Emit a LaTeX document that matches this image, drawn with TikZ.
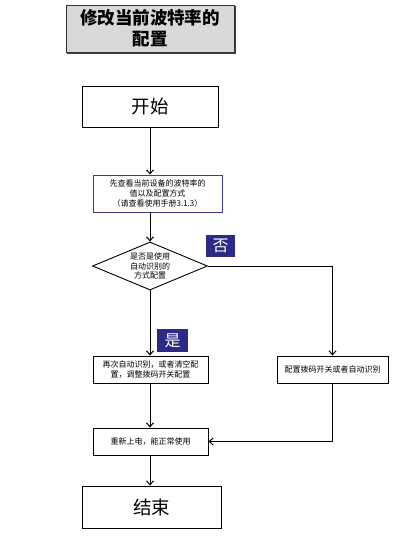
\documentclass[tikz,border=0pt]{standalone}
\usepackage{fontspec}
\setmainfont{Noto Sans CJK SC}
\usepackage{tikz}
\usetikzlibrary{arrows.meta,shapes.geometric,calc}

\definecolor{navy}{RGB}{43,43,134}
\definecolor{boxblue}{RGB}{60,60,150}
\definecolor{titlegray}{RGB}{217,217,217}

\begin{document}
\begin{tikzpicture}[
  x=1pt, y=-1pt, >={Straight Barb[length=4pt,width=7pt]},
  bigbox/.style={draw=black, line width=0.9pt, fill=white, minimum width=#1, minimum height=41pt, inner sep=0pt, font=\fontsize{18.5}{20}\selectfont},
  smallbox/.style={draw=black, line width=0.9pt, fill=white, minimum width=#1, minimum height=27pt, inner sep=0pt, align=center, font=\fontsize{8}{10}\selectfont},
  tag/.style={fill=navy, text=white, minimum width=29pt, minimum height=22pt, inner sep=0pt, font=\fontsize{16}{16}\selectfont},
  flow/.style={->, line width=1pt, draw=black},
]
\useasboundingbox (0,0) rectangle (413,536);

% title
\fill[black!75] (66.5,5.5) rectangle (235.5,53.5);
\node[draw=black!80, line width=0.7pt, fill=titlegray, minimum width=168pt, minimum height=47pt, inner sep=0pt, align=center, font=\fontsize{17.5}{21}\selectfont\bfseries] (title) at (150,28.5) {修改当前波特率的\\配置};

\node[bigbox=136pt] (start) at (150,106.5) {开始};
\node[smallbox=129pt, draw=boxblue, minimum height=37pt] (check) at (157.5,193.5) {先查看当前设备的波特率的\\值以及配置方式\\（请查看使用手册3.1.3）};
\node[draw=black, line width=0.9pt, diamond, aspect=2.4, minimum width=115pt, minimum height=48pt, inner sep=0pt, align=center, font=\fontsize{8}{9.5}\selectfont] (decide) at (150,266) {是否是使用\\自动识别的\\方式配置};
\node[tag] (no) at (220.5,246) {否};
\node[tag, minimum width=31pt, minimum height=23pt] (yes) at (172.5,340.5) {是};
\node[smallbox=115pt] (retry) at (150.5,369.5) {再次自动识别，或者清空配\\置，调整拨码开关配置};
\node[smallbox=111pt] (manual) at (332.5,369.5) {配置拨码开关或者自动识别};
\node[smallbox=115pt] (power) at (150.5,441.5) {重新上电，能正常使用};
\node[bigbox=139pt, minimum height=42pt] (end) at (151.5,507) {结束};

\draw[flow] (start.south) -- (start.south |- check.north);
\draw[flow] (start.south |- check.south) -- (decide.north);
\draw[flow] (decide.east) -| (manual.north);
\draw[flow] (decide.south) -- (decide.south |- retry.north);
\draw[flow] (decide.south |- retry.south) -- (decide.south |- power.north);
\draw[flow] (manual.south) |- (power.east);
\draw[flow] (decide.south |- power.south) -- (decide.south |- end.north);
\end{tikzpicture}
\end{document}
